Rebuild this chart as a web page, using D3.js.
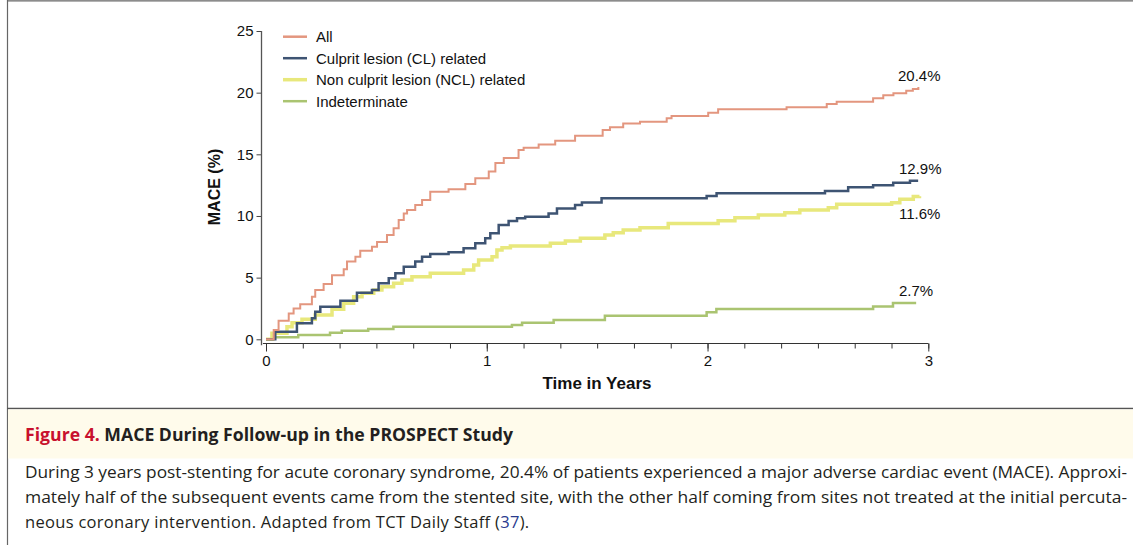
<!DOCTYPE html>
<html><head><meta charset="utf-8">
<script src="https://cdn.jsdelivr.net/npm/d3@7"></script>
<style>
body{margin:0;background:#fff;}
svg{display:block;}
</style></head>
<body>
<svg id="c" width="1133" height="545"></svg>
<script>
// ---- data ----
const seriesNames = ["All", "Culprit lesion (CL) related", "Non culprit lesion (NCL) related", "Indeterminate"];
const allT = [0,0.035,0.057,0.103,0.125,0.155,0.208,0.223,0.261,0.299,0.352,0.367,0.405,0.427,0.48,0.503,0.548,0.578,0.601,0.624,0.639,0.676,0.707,0.744,0.827,0.903,0.948,1.009,1.039,1.077,1.144,1.167,1.235,1.31,1.4,1.525,1.558,1.618,1.694,1.815,1.837,2.003,2.048,2.358,2.54,2.585,2.75,2.796,2.842,2.9,2.93,2.955];
const allV = [0,0.75,1.5,2.1,2.5,2.84,3.45,4.0,4.48,5.2,5.68,6.3,6.7,7.19,7.5,7.9,8.46,9.0,9.67,10.2,10.49,10.9,11.3,11.97,12.16,12.6,13.06,13.6,14.3,14.7,15.35,15.54,15.8,16.1,16.5,16.97,17.19,17.5,17.65,17.92,18.1,18.38,18.65,18.82,19.08,19.27,19.55,19.8,19.95,20.16,20.3,20.45];
const clT = [0,0.042,0.14,0.208,0.223,0.246,0.337,0.412,0.48,0.51,0.556,0.586,0.624,0.676,0.707,0.744,0.827,0.895,0.948,0.993,1.016,1.054,1.099,1.137,1.174,1.28,1.318,1.4,1.431,1.52,1.996,2.041,2.532,2.637,2.75,2.841,2.917,2.954];
const clV = [0,0.62,1.3,1.7,2.24,2.64,3.13,3.78,4.0,4.54,4.95,5.35,5.89,6.3,6.7,6.92,7.05,7.38,7.78,8.19,8.6,9.27,9.6,9.81,9.94,10.2,10.6,10.9,11.1,11.43,11.62,11.84,12.03,12.33,12.5,12.7,12.86,12.86];
const nclT = [0,0.027,0.095,0.118,0.163,0.223,0.299,0.352,0.397,0.435,0.488,0.525,0.578,0.616,0.661,0.744,0.895,0.941,0.963,1.024,1.046,1.069,1.107,1.288,1.356,1.424,1.535,1.573,1.618,1.694,1.822,2.048,2.124,2.23,2.35,2.418,2.547,2.585,2.834,2.871,2.932,2.96];
const nclV = [0,0.49,1.02,1.35,1.62,1.97,2.43,2.92,3.45,3.73,4.0,4.27,4.54,4.81,5.08,5.35,5.62,6.03,6.43,6.7,7.24,7.43,7.57,7.78,7.97,8.19,8.46,8.65,8.86,9.05,9.4,9.62,9.86,10.08,10.27,10.49,10.67,10.95,11.08,11.35,11.57,11.6];
const indT = [0,0.033,0.146,0.29,0.343,0.463,0.577,1.114,1.16,1.303,1.535,1.996,2.04,2.75,2.84,2.945];
const indV = [0,0.16,0.35,0.54,0.7,0.84,1.02,1.16,1.35,1.56,1.9,2.2,2.45,2.65,2.95,2.95];
const endLabels = ["20.4%", "12.9%", "11.6%", "2.7%"];
const yTicks = [0,5,10,15,20,25];
const xMajor = [0,1,2,3];
const captionTitleRed = "Figure 4.";
const captionTitle = " MACE During Follow-up in the PROSPECT Study";
const captionLines = [
  "During 3 years post-stenting for acute coronary syndrome, 20.4% of patients experienced a major adverse cardiac event (MACE). Approxi-",
  "mately half of the subsequent events came from the stented site, with the other half coming from sites not treated at the initial percuta-",
  "neous coronary intervention. Adapted from TCT Daily Staff ("
];

// ---- drawing ----
const svg = d3.select("#c");
const colors = ["#e3967f", "#3e5473", "#e8e87c", "#aac471"];
const widths = [2, 2.5, 3.5, 2.5];

svg.append("rect").attr("width",1133).attr("height",545).attr("fill","#fff");
// frame lines
svg.append("line").attr("x1",7.5).attr("x2",7.5).attr("y1",0).attr("y2",545).attr("stroke","#666").attr("stroke-width",1.2);
svg.append("line").attr("x1",7).attr("x2",1133).attr("y1",0.8).attr("y2",0.8).attr("stroke","#666").attr("stroke-width",1.2);

const x = d3.scaleLinear().domain([0,3]).range([266,928.3]);
const y = d3.scaleLinear().domain([0,25]).range([339.3,31]);

const font = "'Liberation Sans', Arial, Helvetica, sans-serif";

// y axis
const gy = svg.append("g").attr("transform","translate(261.5,0)")
  .call(d3.axisLeft(y).tickValues(yTicks).tickSize(5).tickSizeOuter(0).tickPadding(3));
gy.select(".domain").remove();
gy.append("line").attr("x1",0).attr("x2",0).attr("y1",y(25)).attr("y2",y(-0.48)).attr("stroke","#555").attr("stroke-width",1.3);
gy.selectAll(".tick line").attr("stroke","#444");
gy.selectAll(".tick text").attr("font-family",font).attr("font-size",15).attr("fill","#111");

// x axis
const minorTicks = d3.range(0,19).map(i=>i/6);
const gx = svg.append("g").attr("transform","translate(0,343.5)")
  .call(d3.axisBottom(x).tickValues(minorTicks).tickSize(5).tickSizeOuter(0).tickFormat(""));
gx.select(".domain").remove();
gx.append("line").attr("x1",x(-0.014)).attr("x2",x(3)).attr("y1",0).attr("y2",0).attr("stroke","#333").attr("stroke-width",1.2);
gx.selectAll(".tick line").attr("stroke","#333");
const gx2 = svg.append("g").attr("transform","translate(0,343.5)")
  .call(d3.axisBottom(x).tickValues(xMajor).tickSize(8).tickSizeOuter(0).tickFormat(d3.format("d")).tickPadding(4));
gx2.select(".domain").remove();
gx2.selectAll(".tick line").attr("stroke","#333");
gx2.selectAll(".tick text").attr("font-family",font).attr("font-size",15).attr("fill","#111");

// axis titles
svg.append("text").attr("x",597).attr("y",389).attr("text-anchor","middle")
  .attr("font-family",font).attr("font-weight","bold").attr("font-size",17).attr("fill","#111").text("Time in Years");
svg.append("text").attr("transform","translate(220,187) rotate(-90)").attr("text-anchor","middle")
  .attr("font-family",font).attr("font-weight","bold").attr("font-size",16).attr("fill","#111").text("MACE (%)");

// curves
const series = [[allT,allV],[clT,clV],[nclT,nclV],[indT,indV]];
const line = d3.line().x(d=>x(d[0])).y(d=>y(d[1])).curve(d3.curveStepAfter);
const drawOrder = [3,2,1,0];
drawOrder.forEach(i=>{
  const [T,V] = series[i];
  svg.append("path").datum(T.map((t,k)=>[t,V[k]]))
    .attr("d",line).attr("fill","none").attr("stroke",colors[i]).attr("stroke-width",widths[i]);
});

// end labels
const labelPos = [[898,81],[899,174],[899,219],[899,296]];
endLabels.forEach((s,i)=>{
  svg.append("text").attr("x",labelPos[i][0]).attr("y",labelPos[i][1])
    .attr("font-family",font).attr("font-size",15).attr("fill","#111").text(s);
});

// legend
seriesNames.forEach((s,i)=>{
  const yy = 36.7 + i*21.5;
  svg.append("line").attr("x1",283).attr("x2",307).attr("y1",yy).attr("y2",yy)
    .attr("stroke",colors[i]).attr("stroke-width",i===2?3.5:2.5);
  svg.append("text").attr("x",316).attr("y",yy+5.5).attr("font-family",font).attr("font-size",15).attr("fill","#111").text(s);
});

// caption
svg.append("line").attr("x1",7).attr("x2",1133).attr("y1",408.5).attr("y2",408.5).attr("stroke","#555").attr("stroke-width",1.5);
svg.append("rect").attr("x",8).attr("y",409.5).attr("width",1125).attr("height",49).attr("fill","#fffbeb");
const cfont = "'Open Sans', 'Noto Sans', sans-serif";
const tt = svg.append("text").attr("x",25).attr("y",440.5).attr("font-family",cfont).attr("font-weight","bold").attr("font-size",17.5)
  .attr("textLength",488).attr("lengthAdjust","spacingAndGlyphs");
tt.append("tspan").attr("fill","#c8102e").text(captionTitleRed);
tt.append("tspan").attr("fill","#231f20").text(captionTitle);
captionLines.forEach((s,i)=>{
  const t = svg.append("text").attr("x",25).attr("y",477.5+i*25).attr("font-family",cfont).attr("font-size",16.5).attr("fill","#231f20");
  if(i<2){
    t.attr("textLength",1102).attr("lengthAdjust","spacingAndGlyphs").text(s);
  } else {
    t.attr("letter-spacing",0.3);
    t.append("tspan").text(s);
    t.append("tspan").attr("fill","#2a3b8f").text("37");
    t.append("tspan").text(").");
  }
});
</script>
</body></html>
